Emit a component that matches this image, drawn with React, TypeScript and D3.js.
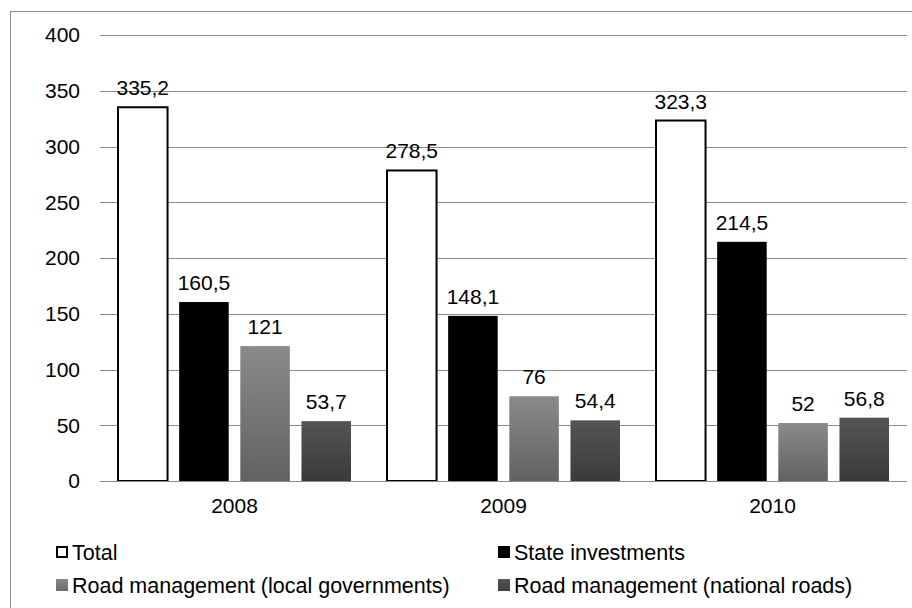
import React from "react";
import * as d3 from "d3";

const categories = ["2008", "2009", "2010"];
const seriesNames = [
  "Total",
  "State investments",
  "Road management (local governments)",
  "Road management (national roads)",
];
const totalValues = [335.2, 278.5, 323.3];
const stateValues = [160.5, 148.1, 214.5];
const localValues = [121, 76, 52];
const nationalValues = [53.7, 54.4, 56.8];
const yTicks = [0, 50, 100, 150, 200, 250, 300, 350, 400];

const seriesValues = [totalValues, stateValues, localValues, nationalValues];

const fmt = (v: number) => String(v).replace(".", ",");

export default function App() {
  const W = 912;
  const H = 608;
  const left = 100;
  const right = 907;
  const top = 35;
  const bottom = 481;

  const x0 = d3.scaleBand<string>().domain(categories).range([left, right]).paddingInner(0).paddingOuter(0);
  const groupPad = 18;
  const x1 = d3
    .scaleBand<number>()
    .domain([0, 1, 2, 3])
    .range([groupPad, x0.bandwidth() - groupPad])
    .paddingInner(0.19)
    .paddingOuter(0);
  const y = d3.scaleLinear().domain([0, 400]).range([bottom, top]);

  const fills = ["#ffffff", "#000000", "url(#gGray)", "url(#gDark)"];
  const legendFills = ["#ffffff", "#000000", "url(#gGrayL)", "url(#gDarkL)"];
  const legendPos = [
    { x: 56, y: 552 },
    { x: 498, y: 552 },
    { x: 56, y: 585 },
    { x: 498, y: 585 },
  ];

  return (
    <svg width={W} height={H} style={{ position: "absolute", left: 0, top: 0 }} fontFamily="'Liberation Sans', Arial, sans-serif">
      <defs>
        <linearGradient id="gGray" x1="0" y1="0" x2="0" y2="1">
          <stop offset="0" stopColor="#8a8a8a" />
          <stop offset="1" stopColor="#626262" />
        </linearGradient>
        <linearGradient id="gDark" x1="0" y1="0" x2="0" y2="1">
          <stop offset="0" stopColor="#555555" />
          <stop offset="1" stopColor="#3a3a3a" />
        </linearGradient>
        <linearGradient id="gGrayL" x1="0" y1="0" x2="0" y2="1">
          <stop offset="0" stopColor="#888888" />
          <stop offset="1" stopColor="#6a6a6a" />
        </linearGradient>
        <linearGradient id="gDarkL" x1="0" y1="0" x2="0" y2="1">
          <stop offset="0" stopColor="#555555" />
          <stop offset="1" stopColor="#404040" />
        </linearGradient>
      </defs>
      <rect x={0} y={0} width={W} height={H} fill="#fff" />
      <rect x={10.5} y={11.5} width={920} height={620} fill="none" stroke="#8c8c8c" strokeWidth={1} />
      {yTicks.map((t) => (
        <g key={t}>
          <line x1={left} x2={right} y1={Math.round(y(t)) + 0.5} y2={Math.round(y(t)) + 0.5} stroke="#8c8c8c" strokeWidth={1} />
          <text x={80} y={y(t)} dy="0.35em" textAnchor="end" fontSize={21} fill="#000">
            {t}
          </text>
        </g>
      ))}
      {categories.map((c, ci) => (
        <g key={c} transform={`translate(${x0(c)},0)`}>
          {seriesValues.map((vals, si) => {
            const v = vals[ci];
            const bx = x1(si)!;
            const bw = x1.bandwidth();
            const by = y(v);
            return (
              <g key={si}>
                <rect
                  x={bx}
                  y={by}
                  width={bw}
                  height={bottom - by}
                  fill={fills[si]}
                  stroke={si === 0 ? "#000" : "none"}
                  strokeWidth={si === 0 ? 2 : 0}
                />
                <text x={bx + bw / 2} y={by - 12} textAnchor="middle" fontSize={21} fill="#000">
                  {fmt(v)}
                </text>
              </g>
            );
          })}
          <text x={x0.bandwidth() / 2} y={513} textAnchor="middle" fontSize={21} fill="#000">
            {c}
          </text>
        </g>
      ))}
      <line x1={left} x2={right} y1={bottom + 0.5} y2={bottom + 0.5} stroke="#8c8c8c" strokeWidth={1} />
      {seriesNames.map((n, i) => {
        const p = legendPos[i];
        return (
          <g key={n}>
            <rect
              x={p.x + (i === 0 ? 1 : 0)}
              y={p.y - 6 + (i === 0 ? 1 : 0)}
              width={i === 0 ? 10 : 12}
              height={i === 0 ? 10 : 12}
              fill={legendFills[i]}
              stroke={i === 0 ? "#000" : "none"}
              strokeWidth={2}
            />
            <text x={p.x + 16} y={p.y} dy="0.35em" fontSize={21.5} fill="#000">
              {n}
            </text>
          </g>
        );
      })}
    </svg>
  );
}
